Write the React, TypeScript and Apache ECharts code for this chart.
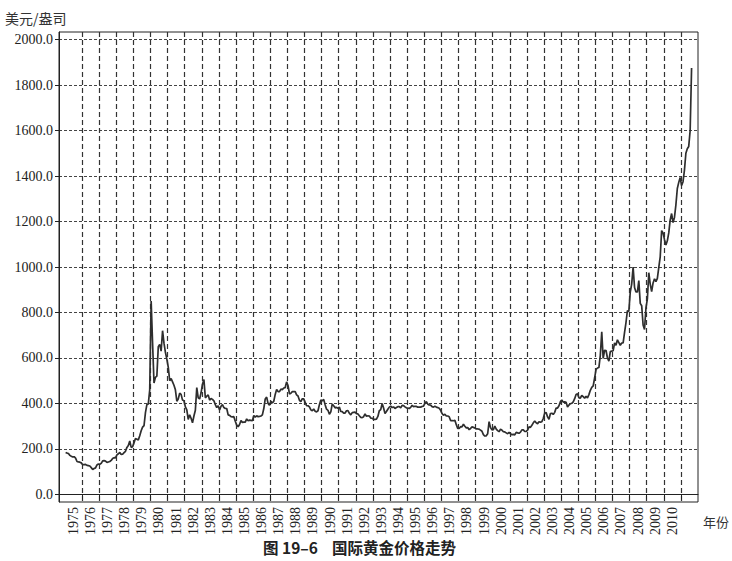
import React, { useEffect, useRef } from "react";
import * as echarts from "echarts";

// Year labels (shown in the middle of each year band) and tick years (year boundaries)
const labelYears: number[] = [];
for (let y = 1975; y <= 2010; y++) labelYears.push(y);
const tickYears: number[] = [];
for (let y = 1976; y <= 2011; y++) tickYears.push(y);
const yTicks = [0, 200, 400, 600, 800, 1000, 1200, 1400, 1600, 1800, 2000];

// Monthly gold prices (USD/oz), starting January 1975
const prices1975to1979 = [
  185, 182, 180, 172, 168, 165, 166, 160, 145, 143, 142, 139,
  131, 131, 132, 128, 127, 125, 118, 110, 114, 117, 130, 134,
  133, 137, 148, 149, 147, 141, 143, 145, 150, 158, 162, 161,
  174, 179, 185, 176, 177, 184, 190, 207, 215, 235, 207, 210,
  228, 246, 243, 240, 258, 280, 296, 303, 360, 395, 398, 460,
];
const prices1980to1989 = [
  850, 665, 490, 515, 520, 650, 660, 630, 720, 665, 625, 595,
  560, 500, 510, 495, 480, 460, 410, 420, 445, 440, 415, 412,
  385, 372, 330, 350, 335, 315, 345, 370, 470, 425, 420, 447,
  485, 505, 425, 432, 438, 415, 422, 418, 412, 395, 382, 390,
  372, 388, 395, 382, 378, 378, 350, 348, 342, 341, 342, 322,
  305, 298, 308, 325, 317, 318, 318, 332, 324, 327, 326, 324,
  347, 340, 346, 342, 343, 345, 350, 378, 420, 428, 400, 392,
  410, 402, 410, 440, 462, 452, 452, 463, 461, 468, 470, 495,
  478, 442, 445, 452, 452, 452, 438, 433, 414, 408, 421, 420,
  405, 390, 390, 385, 372, 368, 376, 366, 363, 368, 395, 415,
];
const prices1990to1999 = [
  412, 418, 395, 375, 370, 353, 363, 398, 390, 381, 383, 379,
  384, 365, 364, 358, 358, 368, 369, 357, 350, 360, 361, 362,
  355, 354, 346, 339, 338, 342, 354, 344, 346, 345, 336, 335,
  330, 330, 331, 343, 368, 373, 400, 380, 356, 365, 375, 384,
  388, 382, 385, 378, 382, 386, 386, 381, 392, 391, 385, 381,
  380, 378, 383, 392, 386, 388, 387, 384, 384, 384, 387, 388,
  402, 408, 397, 394, 393, 386, 384, 388, 384, 382, 379, 370,
  356, 348, 353, 345, 345, 342, 325, 325, 324, 326, 307, 290,
  290, 298, 297, 309, 300, 293, 294, 285, 290, 297, 295, 292,
  288, 288, 287, 283, 278, 263, 257, 258, 267, 320, 294, 284,
];
const prices2000to2009 = [
  285, 301, 287, 281, 276, 287, 283, 276, 275, 271, 267, 273,
  267, 263, 264, 262, 273, 271, 269, 274, 284, 284, 277, 277,
  283, 297, 295, 304, 315, 323, 315, 311, 320, 318, 320, 334,
  358, 360, 341, 330, 356, 357, 352, 361, 380, 380, 390, 408,
  415, 406, 407, 405, 385, 393, 399, 401, 407, 421, 440, 443,
  425, 424, 435, 430, 423, 432, 425, 439, 458, 471, 477, 512,
  550, 556, 558, 612, 715, 598, 634, 633, 600, 586, 628, 630,
  632, 666, 656, 680, 668, 656, 666, 666, 713, 756, 808, 805,
  890, 925, 1000, 910, 890, 890, 940, 840, 830, 745, 725, 820,
  860, 975, 925, 892, 930, 948, 936, 950, 998, 1045, 1160, 1150,
];
const prices2010to2011 = [
  1120, 1097, 1115, 1150, 1207, 1235, 1195, 1218, 1273, 1345, 1372, 1393,
  1358, 1375, 1426, 1500, 1520, 1530, 1600, 1875,
];

const START_YEAR = 1975;
const X_MIN = 1974.656;
const X_MAX = 2012;

export default function App() {
  const ref = useRef<HTMLDivElement>(null);

  useEffect(() => {
    if (!ref.current) return;
    const chart = echarts.init(ref.current, undefined, { renderer: "svg" });

    const allPrices = [
      ...prices1975to1979,
      ...prices1980to1989,
      ...prices1990to1999,
      ...prices2000to2009,
      ...prices2010to2011,
    ];
    const data = allPrices.map((v, i) => [START_YEAR + (i + 0.5) / 12, v]);

    const serif = "'Liberation Serif', 'DejaVu Serif', serif";
    const cjk = "'Noto Sans CJK SC', sans-serif";

    chart.setOption({
      animation: false,
      backgroundColor: "#ffffff",
      grid: {
        left: 59,
        top: 32,
        width: 639,
        height: 470,
        show: true,
        borderColor: "#222",
        borderWidth: 1,
        containLabel: false,
        outerBoundsMode: "none",
      },
      xAxis: {
        type: "value",
        min: X_MIN,
        max: X_MAX,
        axisLine: { show: true, lineStyle: { color: "#222", width: 1 } },
        axisTick: {
          show: true,
          inside: false,
          length: 5,
          customValues: tickYears,
          lineStyle: { color: "#222", width: 1 },
        },
        axisLabel: {
          customValues: labelYears.map((y) => y + 0.5),
          formatter: (v: number) => String(Math.floor(v)),
          rotate: 90,
          margin: 5,
          color: "#222",
          fontFamily: serif,
          fontSize: 14,
        },
        splitLine: { show: true, lineStyle: { color: "#333", width: 1.2, type: [5, 3] } },
      },
      yAxis: {
        type: "value",
        min: -33,
        max: 2033,
        axisLine: { show: true, lineStyle: { color: "#222", width: 1 } },
        axisTick: {
          show: true,
          inside: false,
          length: 4,
          customValues: yTicks,
          lineStyle: { color: "#222", width: 1 },
        },
        axisLabel: {
          customValues: yTicks,
          formatter: (v: number) => v.toFixed(1),
          margin: 6,
          color: "#222",
          fontFamily: serif,
          fontSize: 14,
        },
        splitLine: { show: true, lineStyle: { color: "#444", width: 1, type: [3, 2] } },
      },
      series: [
        {
          type: "line",
          data,
          symbol: "none",
          showSymbol: false,
          lineStyle: { color: "#2e2e2e", width: 1.7 },
          clip: true,
        },
      ],
      graphic: [
        {
          type: "text",
          left: 5,
          top: 11,
          style: { text: "美元/盎司", font: `14px ${cjk}`, fill: "#333" },
        },
        {
          type: "text",
          left: 703,
          top: 515,
          style: { text: "年份", font: `13px ${cjk}`, fill: "#333" },
        },
        {
          type: "text",
          left: 263,
          top: 539,
          style: { text: "图 19–6    国际黄金价格走势", font: `bold 15.5px ${cjk}`, fill: "#222" },
        },
      ],
    });

    return () => chart.dispose();
  }, []);

  return (
    <div
      ref={ref}
      style={{ position: "fixed", left: 0, top: 0, width: 732, height: 561, background: "#fff" }}
    />
  );
}
